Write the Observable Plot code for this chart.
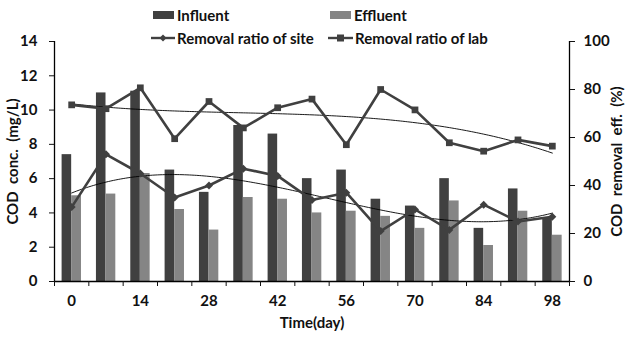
<!DOCTYPE html>
<html><head><meta charset="utf-8">
<script src="https://cdn.jsdelivr.net/npm/d3@7"></script>
<script src="https://cdn.jsdelivr.net/npm/@observablehq/plot@0.6"></script>
<style>
body{margin:0;background:#fff;}
#wrap{position:relative;width:629px;height:338px;font-family:Lato,"Open Sans",sans-serif;font-weight:bold;color:#111;}
.leg{position:absolute;height:18px;font-size:15px;display:flex;align-items:center;white-space:nowrap;}
.leg svg{margin-right:2px;}
svg text{white-space:pre;}
</style></head><body><div id="wrap"></div>
<script>
// ---- data ----
const days = [0, 7, 14, 21, 28, 35, 42, 49, 56, 63, 70, 77, 84, 91, 98];
const influent = [7.4, 11.0, 11.1, 6.5, 5.2, 9.1, 8.6, 6.0, 6.5, 4.8, 4.4, 6.0, 3.1, 5.4, 3.7];
const effluent = [5.0, 5.1, 6.3, 4.2, 3.0, 4.9, 4.8, 4.0, 4.1, 3.8, 3.1, 4.7, 2.1, 4.1, 2.7];
const siteRemoval = [31, 53, 45, 35, 40, 47, 44, 34, 37, 21, 30, 21.5, 32, 25, 27];
const labRemoval = [73.6, 72, 80.7, 59.5, 75, 64, 72.4, 76, 57, 80, 71.5, 57.8, 54.3, 59, 56.4];
const leftTicks = [0, 2, 4, 6, 8, 10, 12, 14];
const rightTicks = [0, 20, 40, 60, 80, 100];
const labelDays = [0, 14, 28, 42, 56, 70, 84, 98];

const rows = days.map((d, i) => ({day: d, influent: influent[i], effluent: effluent[i], site: siteRemoval[i], lab: labRemoval[i]}));

// right axis (%) mapped onto the left scale (0–14 <-> 0–100)
const pct = v => v * 14 / 100;

// least-squares polynomial trendline (as the spreadsheet trendline)
function polyfit(xs, ys, deg) {
  const n = deg + 1;
  const A = Array.from({length: n}, () => new Array(n + 1).fill(0));
  xs.forEach((x, k) => {
    for (let i = 0; i < n; i++) {
      for (let j = 0; j < n; j++) A[i][j] += Math.pow(x, i + j);
      A[i][n] += ys[k] * Math.pow(x, i);
    }
  });
  for (let c = 0; c < n; c++) {
    let p = c;
    for (let r = c + 1; r < n; r++) if (Math.abs(A[r][c]) > Math.abs(A[p][c])) p = r;
    [A[c], A[p]] = [A[p], A[c]];
    for (let r = 0; r < n; r++) if (r !== c) {
      const f = A[r][c] / A[c][c];
      for (let j = c; j <= n; j++) A[r][j] -= f * A[c][j];
    }
  }
  const coef = A.map((row, i) => row[n] / row[i]);
  return x => coef.reduce((s, c, i) => s + c * Math.pow(x, i), 0);
}
const tx = days.map(d => d / 98);
const fitSite = polyfit(tx, siteRemoval, 3);
const fitLab = polyfit(tx, labRemoval, 3);
const fine = d3.range(0, 98.001, 0.5);
const trendSite = fine.map(d => ({day: d, v: fitSite(d / 98)}));
const trendLab = fine.map(d => ({day: d, v: fitLab(d / 98)}));

const xDomain = [days[0] - 3.5, days[days.length - 1] + 3.5];
const bounds = d3.range(xDomain[0], xDomain[1] + 0.01, 7);

const dark = "#404040", grey = "#858585";

const chart = Plot.plot({
  width: 629, height: 338,
  marginLeft: 54, marginRight: 60, marginTop: 41, marginBottom: 57,
  x: {domain: xDomain},
  y: {domain: [0, 14]},
  style: {fontFamily: "Lato, 'Open Sans', sans-serif", fontSize: "15px", fontWeight: "bold", color: "#111", background: "#fff"},
  marks: [
    Plot.rect(rows, {x1: d => d.day - 1.95, x2: d => d.day, y1: 0, y2: "influent", fill: dark, ariaLabel: "influent"}),
    Plot.rect(rows, {x1: d => d.day, x2: d => d.day + 2.0, y1: 0, y2: "effluent", fill: grey, ariaLabel: "effluent"}),
    Plot.line(trendLab, {x: "day", y: d => pct(d.v), stroke: "#000", strokeWidth: 0.9}),
    Plot.line(trendSite, {x: "day", y: d => pct(d.v), stroke: "#000", strokeWidth: 0.9}),
    Plot.line(rows, {x: "day", y: d => pct(d.site), stroke: dark, strokeWidth: 2.6}),
    Plot.dot(rows, {x: "day", y: d => pct(d.site), symbol: "diamond2", r: 3.6, fill: dark, stroke: "none"}),
    Plot.line(rows, {x: "day", y: d => pct(d.lab), stroke: dark, strokeWidth: 2.6}),
    Plot.dot(rows, {x: "day", y: d => pct(d.lab), symbol: "square", r: 3.8, fill: dark, stroke: "none"}),
    Plot.ruleX(xDomain, {stroke: "#000", strokeWidth: 1.3}),
    Plot.ruleY([0], {stroke: "#000", strokeWidth: 1.3}),
    Plot.axisY({anchor: "left", ticks: leftTicks, tickSize: 5, tickPadding: 12, label: "COD  conc.  (mg/L)", labelAnchor: "center", labelArrow: "none", labelOffset: 47}),
    Plot.axisY({anchor: "right", ticks: rightTicks.map(pct), tickFormat: v => String(Math.round(v * 100 / 14)), tickSize: 5, tickPadding: 9, label: "COD  removal  eff.  (%)", labelAnchor: "center", labelArrow: "none", labelOffset: 52}),
    Plot.axisX({ticks: bounds, tickFormat: () => "", tickSize: 5, label: null}),
    Plot.axisX({ticks: labelDays, tickSize: 0, tickPadding: 14, label: "Time(day)", labelAnchor: "center", labelArrow: "none", labelOffset: 46})
  ]
});
chart.querySelectorAll('g[aria-label="influent"], g[aria-label="effluent"]').forEach(g => {
  g.style.filter = "drop-shadow(3px 1px 1.2px rgba(0,0,0,0.45))";
});
const wrap = document.getElementById("wrap");
wrap.appendChild(chart);

// legend
const legendItems = [
  {name: "Influent", kind: "bar", color: dark, left: 153, top: 15},
  {name: "Effluent", kind: "bar", color: grey, left: 330, top: 15},
  {name: "Removal ratio of site", kind: "diamond", color: dark, left: 151, top: 38},
  {name: "Removal ratio of lab", kind: "square", color: dark, left: 328, top: 38}
];
legendItems.forEach(it => {
  const div = document.createElement("div");
  div.className = "leg";
  div.style.left = it.left + "px";
  div.style.top = (it.top - 9) + "px";
  let sw;
  if (it.kind === "bar") {
    sw = `<svg width="22" height="18"><rect x="0" y="5" width="21" height="8" fill="${it.color}"/></svg>`;
  } else if (it.kind === "diamond") {
    sw = `<svg width="24" height="18"><line x1="0" y1="9" x2="24" y2="9" stroke="${it.color}" stroke-width="2.4"/><path d="M12 5.5L15.5 9L12 12.5L8.5 9Z" fill="${it.color}"/></svg>`;
  } else {
    sw = `<svg width="25" height="18"><line x1="0" y1="9" x2="25" y2="9" stroke="${it.color}" stroke-width="2.4"/><rect x="9" y="5.5" width="7" height="7" fill="${it.color}"/></svg>`;
  }
  div.innerHTML = sw + `<span>${it.name}</span>`;
  wrap.appendChild(div);
});
</script>
</body></html>
